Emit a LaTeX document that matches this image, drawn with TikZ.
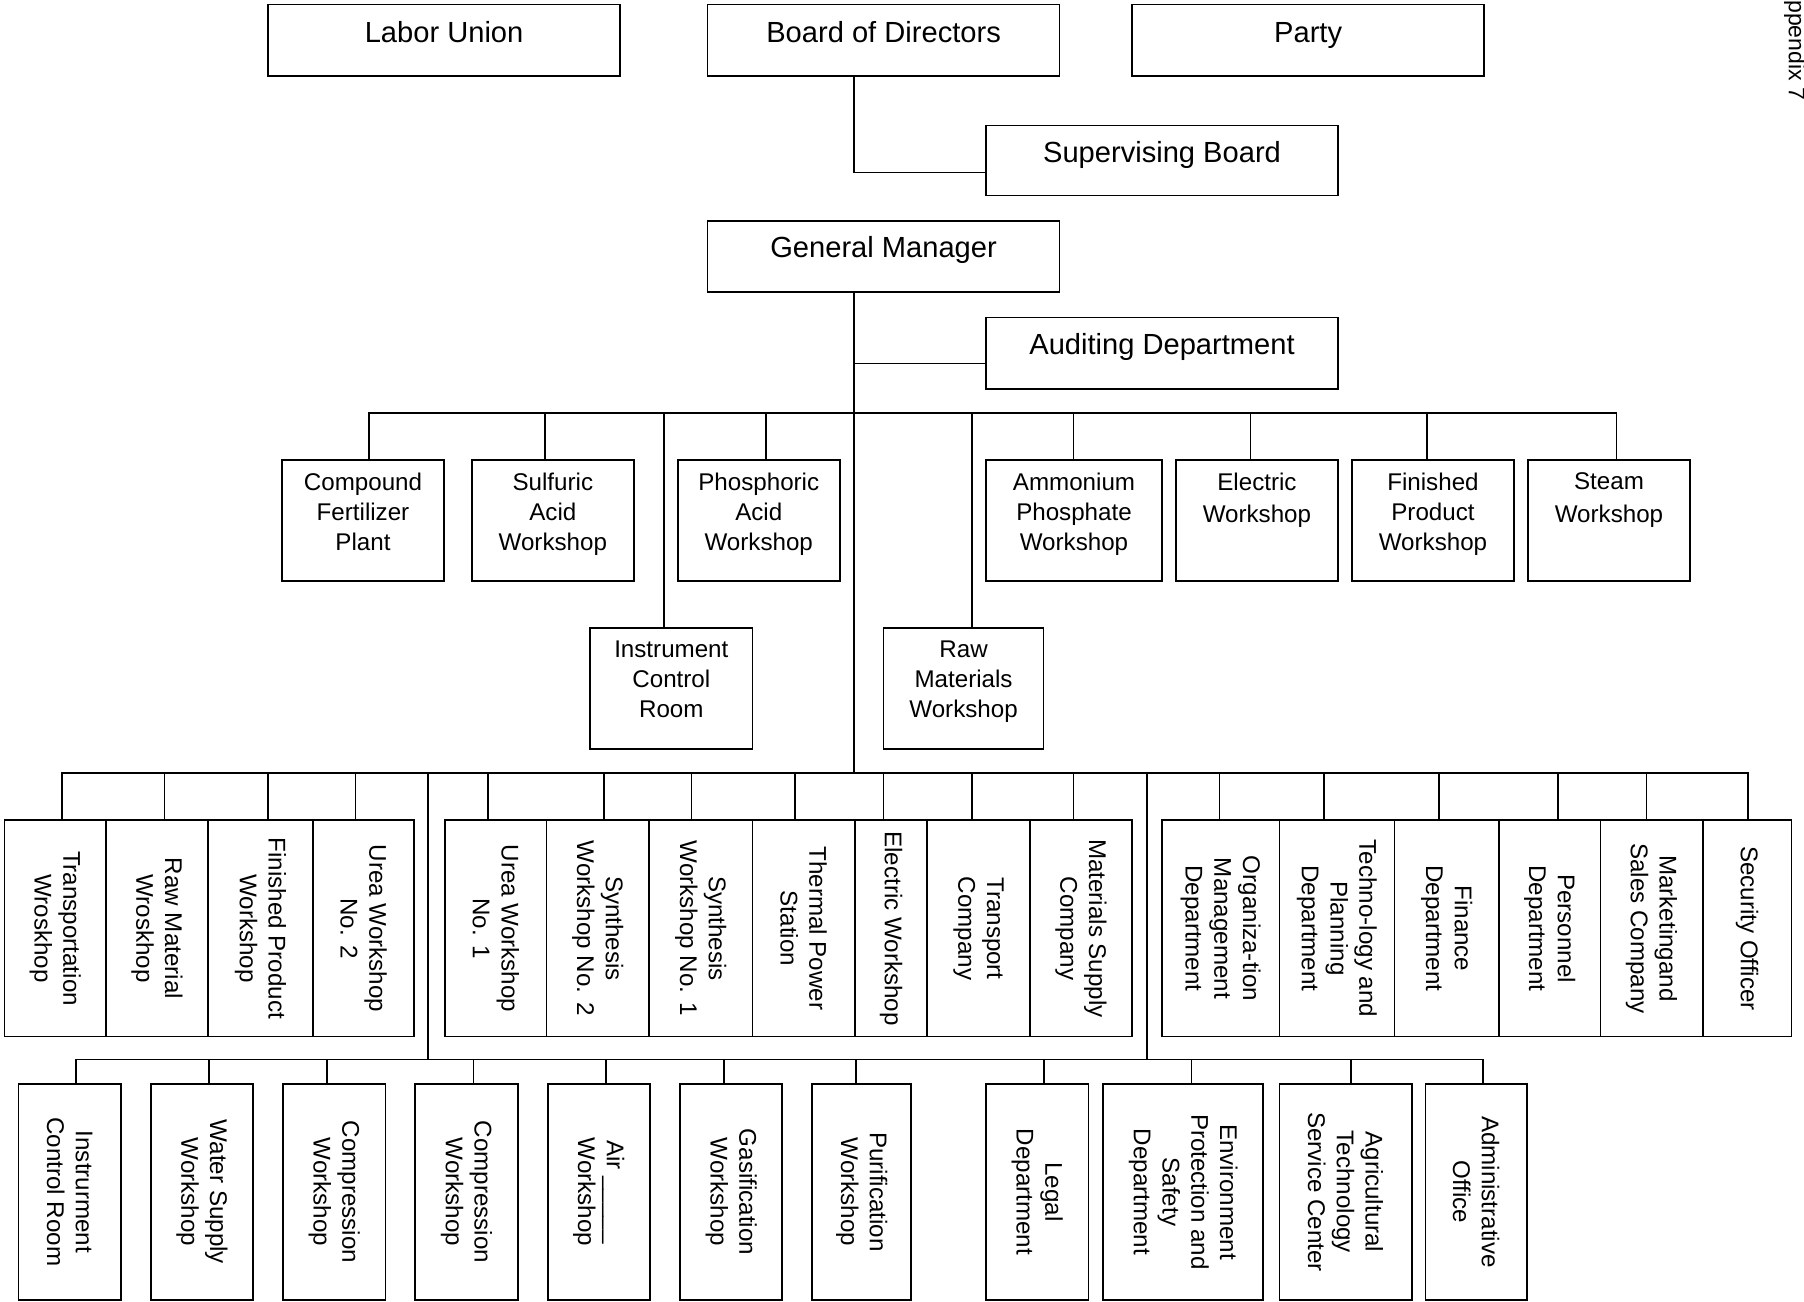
\documentclass[tikz,border=0pt]{standalone}
\usepackage{fontspec}
\setmainfont{Liberation Sans}

% \orgrect{name}{x1}{y1}{x2}{y2}: an empty framed box given by two corners
\newcommand{\orgrect}[5]{%
  \node[orgbox, minimum width={(#4-#2)*1pt}, minimum height={(#5-#3)*1pt}]
    (#1) at ({(#2+#4)/2},{(#3+#5)/2}) {};}

\begin{document}
\begin{tikzpicture}[x=1pt,y=-1pt,
  orgbox/.style={draw, line width=1.5pt, inner sep=0pt, outer sep=0pt},
  wire/.style={line width=1.5pt, line cap=rect},
  toptext/.style={font=\fontsize{25.3}{30}\selectfont, inner sep=0pt, anchor=base},
  midtext/.style={font=\fontsize{21}{26}\selectfont, align=center, inner sep=0pt, anchor=north},
  vtext/.style={font=\fontsize{21}{25}\selectfont, align=center, inner sep=0pt, rotate=-90},
]
\useasboundingbox (0,0) rectangle (1568,1131);

% ---------- governing bodies ----------
\orgrect{labor}{233}{4}{539}{66}
\orgrect{board}{615}{4}{921}{66}
\orgrect{party}{984}{4}{1290}{66}
\orgrect{sup}{857}{109}{1163}{170}
\orgrect{gm}{615}{192}{921}{254}
\orgrect{aud}{857}{276}{1163}{338}
\node[toptext] (labor-t) at ([yshift=-33pt]labor.north) {Labor Union};
\node[toptext] (board-t) at ([yshift=-33pt]board.north) {Board of Directors};
\node[toptext] (party-t) at ([yshift=-33pt]party.north) {Party};
\node[toptext] (sup-t) at ([yshift=-32pt]sup.north) {Supervising Board};
\node[toptext] (gm-t) at ([yshift=-32pt]gm.north) {General Manager};
\node[toptext] (aud-t) at ([yshift=-32pt]aud.north) {Auditing Department};

% ---------- production plants and workshops ----------
\orgrect{cf}{245}{400}{386}{505}
\orgrect{sa}{410}{400}{551}{505}
\orgrect{pa}{589}{400}{730}{505}
\orgrect{ap}{857}{400}{1010}{505}
\orgrect{ew}{1022}{400}{1163}{505}
\orgrect{fp}{1175}{400}{1316}{505}
\orgrect{sw}{1328}{400}{1469}{505}
\orgrect{icr}{513}{546}{654}{651}
\orgrect{rm}{768}{546}{907}{651}
\node[midtext] (cf-t) at ([yshift=-11pt]cf.north) {Compound\\Fertilizer\\Plant};
\node[midtext] (sa-t) at ([yshift=-11pt]sa.north) {Sulfuric\\Acid\\Workshop};
\node[midtext] (pa-t) at ([yshift=-11pt]pa.north) {Phosphoric\\Acid\\Workshop};
\node[midtext] (ap-t) at ([yshift=-11pt]ap.north) {Ammonium\\Phosphate\\Workshop};
\node[midtext] (ew-t) at ([yshift=-11pt]ew.north) {Electric\\[2pt]Workshop};
\node[midtext] (fp-t) at ([yshift=-11pt]fp.north) {Finished\\Product\\Workshop};
\node[midtext] (sw-t) at ([yshift=-11pt]sw.north) {Steam\\[2pt]Workshop};
\node[midtext] (icr-t) at ([yshift=-11pt]icr.north) {Instrument\\Control\\Room};
\node[midtext] (rm-t) at ([yshift=-11pt]rm.north) {Raw\\Materials\\Workshop};

% ---------- third level ----------
\orgrect{a1}{4}{713}{92}{901}
\orgrect{a2}{92}{713}{181}{901}
\orgrect{a3}{181}{713}{272}{901}
\orgrect{a4}{272}{713}{360}{901}
\orgrect{b1}{387}{713}{475}{901}
\orgrect{b2}{475}{713}{564}{901}
\orgrect{b3}{564}{713}{654}{901}
\orgrect{b4}{654}{713}{743}{901}
\orgrect{b5}{743}{713}{806}{901}
\orgrect{b6}{806}{713}{895}{901}
\orgrect{b7}{895}{713}{984}{901}
\orgrect{c1}{1010}{713}{1112}{901}
\orgrect{c2}{1112}{713}{1212}{901}
\orgrect{c3}{1212}{713}{1303}{901}
\orgrect{c4}{1303}{713}{1391}{901}
\orgrect{c5}{1391}{713}{1480}{901}
\orgrect{c6}{1480}{713}{1557}{901}
\node[vtext] (a1-t) at (a1) {Transportation\\Wroskhop};
\node[vtext] (a2-t) at (a2) {Raw Material\\Wroskhop};
\node[vtext] (a3-t) at (a3) {Finished Product\\Workshop};
\node[vtext] (a4-t) at (a4) {Urea Workshop\\No. 2};
\node[vtext] (b1-t) at (b1) {Urea Workshop\\No. 1};
\node[vtext] (b2-t) at (b2) {Synthesis\\Workshop No. 2};
\node[vtext] (b3-t) at (b3) {Synthesis\\Workshop No. 1};
\node[vtext] (b4-t) at (b4) {Thermal Power\\Station};
\node[vtext] (b5-t) at (b5) {Electric Workshop};
\node[vtext] (b6-t) at (b6) {Transport\\Company};
\node[vtext] (b7-t) at (b7) {Materials Supply\\Company};
\node[vtext] (c1-t) at (c1) {Organiza-tion\\Management\\Department};
\node[vtext] (c2-t) at (c2) {Techno-logy and\\Planning\\Department};
\node[vtext] (c3-t) at (c3) {Finance\\Department};
\node[vtext] (c4-t) at (c4) {Personnel\\Department};
\node[vtext] (c5-t) at (c5) {Marketingand\\Sales Company};
\node[vtext] (c6-t) at (c6) {Security Officer};

% ---------- fourth level ----------
\orgrect{d1}{16}{942}{105}{1130}
\orgrect{d2}{131}{942}{220}{1130}
\orgrect{d3}{246}{942}{335}{1130}
\orgrect{d4}{361}{942}{450}{1130}
\orgrect{d5}{476}{942}{565}{1130}
\orgrect{d6}{591}{942}{680}{1130}
\orgrect{d7}{706}{942}{792}{1130}
\orgrect{d8}{857}{942}{946}{1130}
\orgrect{d9}{959}{942}{1098}{1130}
\orgrect{d10}{1112}{942}{1227}{1130}
\orgrect{d11}{1239}{942}{1327}{1130}
\node[vtext] (d1-t) at (d1) {Instrurment\\Control Room};
\node[vtext] (d2-t) at (d2) {Water Supply\\Workshop};
\node[vtext] (d3-t) at (d3) {Compression\\Workshop};
\node[vtext] (d4-t) at (d4) {Compression\\Workshop};
\node[vtext] (d5-t) at (d5) {Air \_\_\_\_\_\\Workshop};
\node[vtext] (d6-t) at (d6) {Gasification\\Workshop};
\node[vtext] (d7-t) at (d7) {Purification\\Workshop};
\node[vtext] (d8-t) at (d8) {Legal\\Department};
\node[vtext] (d9-t) at (d9) {Environment\\Protection and\\Safety\\Department};
\node[vtext] (d10-t) at (d10) {Agricultural\\Technology\\Service Center};
\node[vtext] (d11-t) at (d11) {Administrative\\Office};

% ---------- margin note ----------
\node[rotate=-90, anchor=west, inner sep=0pt, font=\fontsize{20}{22}\selectfont] (appx) at (1560,0) {ppendix 7};

% ---------- reference lines for trunks and buses ----------
\coordinate (spine) at (742,0);
\coordinate (spineL) at (372,0);
\coordinate (spineR) at (997,0);
\coordinate (midbus) at (0,359);
\coordinate (lowbus) at (0,672);
\coordinate (botbus) at (0,921);

% ---------- connectors ----------
\draw[wire] (board.south -| spine) |- ([yshift=-10.5pt]sup.west);
\draw[wire] (gm.south -| spine) -- (spine |- lowbus);
\draw[wire] ([yshift=-9pt]aud.west) -- ([yshift=-9pt]aud.west -| spine);

% bus to the plants and workshops
\draw[wire] ([xshift=5.5pt]cf.north |- midbus) -- ([xshift=6.5pt]sw.north |- midbus);
\foreach \n/\s in {cf/5.5, sa/-6.5, pa/6.5, ap/-0.5, ew/-5.5, fp/-5.5, sw/6.5, icr/-6.5, rm/7.5}
  \draw[wire] ([xshift=\s pt]\n.north) -- ([xshift=\s pt]\n.north |- midbus);

% bus to the third level
\draw[wire] ([xshift=6pt]a1.north |- lowbus) -- ([xshift=0.5pt]c6.north |- lowbus);
\foreach \n/\s in {a1/6, a2/6.5, a3/6.5, a4/-7, b1/-7, b2/5.5, b3/-8, b4/-7.5, b5/-6.5, b6/-5.5, b7/-6.5,
                   c1/-1, c2/-11, c3/-6.5, c4/7, c5/-4.5, c6/0.5}
  \draw[wire] ([xshift=\s pt]\n.north) -- ([xshift=\s pt]\n.north |- lowbus);

% trunks and bus to the fourth level
\draw[wire] (spineL |- lowbus) -- (spineL |- botbus);
\draw[wire] (spineR |- lowbus) -- (spineR |- botbus);
\draw[wire] ([xshift=5.5pt]d1.north |- botbus) -- ([xshift=6pt]d11.north |- botbus);
\foreach \n/\s in {d1/5.5, d2/6, d3/-6.5, d4/6, d5/6, d6/-6.5, d7/-5, d8/6, d9/7, d10/5, d11/6}
  \draw[wire] ([xshift=\s pt]\n.north) -- ([xshift=\s pt]\n.north |- botbus);
\end{tikzpicture}
\end{document}
